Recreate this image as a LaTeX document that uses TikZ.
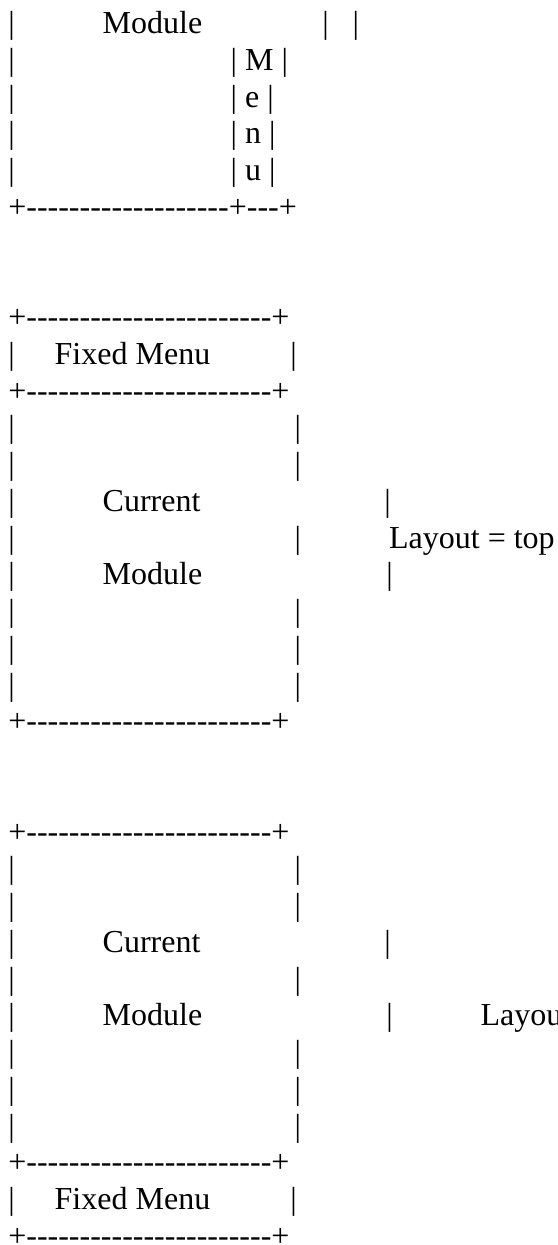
\documentclass[tikz,border=0pt]{standalone}
\usepackage{fontspec}
\newfontfamily\asc{Liberation Serif}[Ligatures=TeXOff]
\newcommand\sps[1]{\hspace*{#1\fontdimen2\font}}
\tikzset{
  ln/.style={anchor=base west, inner sep=0pt, outer sep=0pt, text=black,
    font=\asc\fontsize{32}{36.75}\selectfont},
}
\begin{document}
\begin{tikzpicture}[x=1pt,y=-1pt]
\useasboundingbox[fill=white] (0,0) rectangle (557,1245);
% --- top block: layout = right (menu column) ---
\node[ln] (r1) at (8.3,33.5)   {|\sps{11}Module\sps{15}|\sps{3}|};
\node[ln] (r2) at (8.3,70.25)  {|\sps{27}|\sps{1}M\sps{1}|};
\node[ln] (r3) at (8.3,107)    {|\sps{27}|\sps{1}e\sps{1}|};
\node[ln] (r4) at (8.3,143.75) {|\sps{27}|\sps{1}n\sps{1}|};
\node[ln] (r5) at (8.3,180.5)  {|\sps{27}|\sps{1}u\sps{1}|};
\node[ln] (r6) at (8.3,217.25) {+-------------------+---+};
% --- middle block: layout = top ---
\node[ln] (r9)  at (8.3,327.5)  {+-----------------------+};
\node[ln] (r10) at (8.3,364.25) {|\sps{5}Fixed Menu\sps{10}|};
\node[ln] (r11) at (8.3,401)    {+-----------------------+};
\node[ln] (r12) at (8.3,437.75) {|\sps{35}|};
\node[ln] (r13) at (8.3,474.5)  {|\sps{35}|};
\node[ln] (r14) at (8.3,511.25) {|\sps{11}Current\sps{23}|};
\node[ln] (r15) at (8.3,548)    {|\sps{35}|\sps{11}Layout = top};
\node[ln] (r16) at (8.3,584.75) {|\sps{11}Module\sps{23}|};
\node[ln] (r17) at (8.3,621.5)  {|\sps{35}|};
\node[ln] (r18) at (8.3,658.25) {|\sps{35}|};
\node[ln] (r19) at (8.3,695)    {|\sps{35}|};
\node[ln] (r20) at (8.3,731.75) {+-----------------------+};
% --- bottom block: layout = bottom ---
\node[ln] (r23) at (8.3,842)     {+-----------------------+};
\node[ln] (r24) at (8.3,878.75)  {|\sps{35}|};
\node[ln] (r25) at (8.3,915.5)   {|\sps{35}|};
\node[ln] (r26) at (8.3,952.25)  {|\sps{11}Current\sps{23}|};
\node[ln] (r27) at (8.3,989)     {|\sps{35}|};
\node[ln] (r28) at (8.3,1025.75) {|\sps{11}Module\sps{23}|\sps{11}Layou};
\node[ln] (r29) at (8.3,1062.5)  {|\sps{35}|};
\node[ln] (r30) at (8.3,1099.25) {|\sps{35}|};
\node[ln] (r31) at (8.3,1136)    {|\sps{35}|};
\node[ln] (r32) at (8.3,1172.75) {+-----------------------+};
\node[ln] (r33) at (8.3,1209.5)  {|\sps{5}Fixed Menu\sps{10}|};
\node[ln] (r34) at (8.3,1246.25) {+-----------------------+};
\end{tikzpicture}
\end{document}
